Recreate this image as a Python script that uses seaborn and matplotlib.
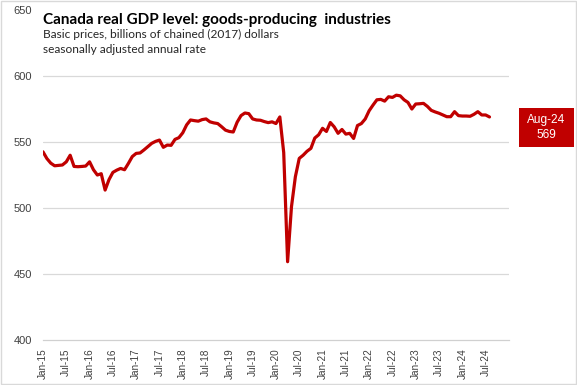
import numpy as np
import pandas as pd
import matplotlib.pyplot as plt
import seaborn as sns
from matplotlib.patches import Rectangle

# Monthly real GDP, goods-producing industries, Jan-15 .. Aug-24 (billions of chained 2017 $)
gdp = [
    542.6, 537.5, 534.0, 532.0, 532.3, 532.6, 535.0, 540.0, 531.5, 531.3, 531.5, 531.8,  # 2015
    535.0, 529.0, 525.0, 526.0, 513.6, 521.5, 527.0, 528.7, 530.0, 529.0, 533.8, 539.0,  # 2016
    541.4, 541.7, 544.0, 546.5, 549.0, 550.5, 551.5, 546.0, 547.7, 547.5, 552.0, 553.3,  # 2017
    557.0, 563.0, 566.7, 566.2, 565.8, 567.0, 567.5, 565.3, 564.5, 564.0, 561.6, 559.0,  # 2018
    558.0, 557.6, 565.0, 570.0, 572.0, 571.5, 567.5, 566.7, 566.5, 565.5, 564.7, 565.3,  # 2019
    564.0, 569.0, 542.0, 459.3, 501.0, 523.7, 537.6, 540.0, 543.0, 545.2, 553.0, 555.5,  # 2020
    560.4, 558.0, 564.8, 561.5, 556.6, 559.5, 556.0, 556.6, 552.7, 562.5, 564.0, 567.5,  # 2021
    573.7, 578.0, 582.0, 582.3, 581.0, 584.3, 583.8, 585.5, 585.0, 582.0, 580.0, 575.0,  # 2022
    578.8, 579.0, 579.3, 577.0, 574.0, 572.8, 571.8, 570.5, 569.2, 569.2, 573.0, 570.0,  # 2023
    569.7, 569.7, 569.5, 571.0, 573.0, 570.5, 570.5, 569.0,                                # 2024
]
months = pd.date_range("2015-01-01", periods=len(gdp), freq="MS")
tick_dates = pd.date_range("2015-01-01", "2025-01-01", freq="6MS")
tick_labels = [d.strftime("%b-%y") for d in tick_dates[:-1]] + [""]
y_ticks = [400, 450, 500, 550, 600, 650]

title = "Canada real GDP level: goods-producing  industries"
subtitle = "Basic prices, billions of chained (2017) dollars\nseasonally adjusted annual rate"
last_label = months[-1].strftime("%b-%y")

df = pd.DataFrame({"month": np.arange(len(gdp)), "gdp": gdp})
tick_pos = [(d.year - 2015) * 12 + d.month - 1 for d in tick_dates]

sns.set_style("white")
plt.rcParams["font.family"] = ["Liberation Sans", "DejaVu Sans"]

red = "#c00000"
fig = plt.figure(figsize=(5.77, 3.85), dpi=100)
ax = fig.add_axes([0.0745, 0.1169, 0.8075, 0.857])

sns.lineplot(data=df, x="month", y="gdp", color=red, linewidth=2.3, ax=ax)

ax.set_xlim(0, 120)
ax.set_ylim(400, 650)
ax.set_xticks(tick_pos)
ax.set_xticklabels(tick_labels, rotation=90, fontsize=7.2, color="#404040",
                   family=["Liberation Sans Narrow", "Liberation Sans"])
ax.set_yticks(y_ticks)
ax.set_yticklabels([str(v) for v in y_ticks], fontsize=8, color="#404040")
ax.tick_params(axis="x", direction="out", length=4, width=0.8, color="#d0d0d0", pad=2)
ax.tick_params(axis="y", length=0, pad=8)
ax.set_xlabel("")
ax.set_ylabel("")
for v in y_ticks[1:-1]:
    ax.axhline(v, color="#d9d9d9", linewidth=0.9, zorder=0)
for s in ["left", "right", "top"]:
    ax.spines[s].set_visible(False)
ax.spines["bottom"].set_color("#d0d0d0")
ax.spines["bottom"].set_linewidth(0.9)

# title block
fig.text(43 / 577, 1 - 20 / 385, title, fontsize=11, fontweight="bold", color="black",
         va="center", ha="left", family=["Lato", "DejaVu Sans"])
fig.text(43 / 577, 1 - 29 / 385, subtitle, fontsize=8.6, color="#262626", va="top",
         ha="left", linespacing=1.45, family=["Lato", "DejaVu Sans"])

# last value box
fig.patches.append(Rectangle((519 / 577, 1 - 147 / 385), 55 / 577, 39 / 385,
                             transform=fig.transFigure, facecolor=red, edgecolor="none"))
fig.text(546.5 / 577, 1 - 127.5 / 385, f"{last_label}\n{round(gdp[-1])}", color="white",
         fontsize=8.6, ha="center", va="center", linespacing=1.25)

# outer border
fig.patches.append(Rectangle((0.001, 0.002), 0.997, 0.996, transform=fig.transFigure,
                             facecolor="none", edgecolor="#d9d9d9", linewidth=1))

fig.savefig("out.png", dpi=100)
